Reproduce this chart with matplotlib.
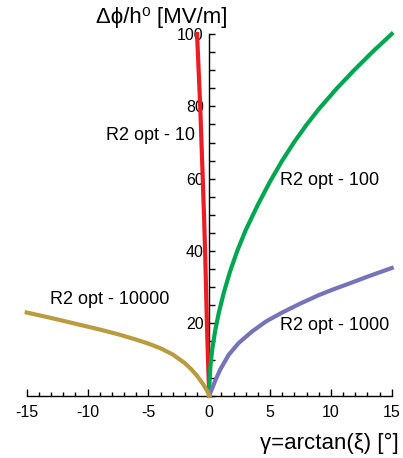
import matplotlib
matplotlib.use("Agg")
import matplotlib.pyplot as plt
from matplotlib.ticker import MultipleLocator

plt.rcParams['font.family'] = ['Liberation Sans', 'DejaVu Sans']
plt.rcParams['axes.unicode_minus'] = False

# curves: gamma [deg] and delta phi / h0 [MV/m]
x_r10 = [0.0, -0.03, -0.1, -0.19, -0.26, -0.33, -0.42, -0.52, -0.63, -0.74, -0.87, -1.0]
y_r10 = [0.0, 3.0, 10.0, 20.0, 29.5, 39.0, 49.0, 59.0, 69.5, 80.0, 90.0, 100.0]

x_r100 = [0.0, 0.02, 0.1, 0.25, 0.5, 0.8, 1.2, 1.7, 2.3, 3.0, 4.0, 5.0,
          6.0, 7.0, 8.0, 9.0, 10.5, 12.0, 13.5, 15.0]
y_r100 = [0.0, 3.6, 8.2, 12.9, 18.2, 23.1, 28.5, 34.2, 40.0, 45.8, 52.8, 59.2,
          65.0, 70.2, 74.9, 79.2, 85.0, 90.3, 95.3, 100.0]

x_r1000 = [0.0, 0.1, 0.3, 0.5, 0.9, 1.6, 2.4, 3.5, 4.7, 6.0, 7.5, 9.0,
           10.2, 11.5, 13.0, 15.0]
y_r1000 = [0.0, 0.9, 2.5, 4.2, 7.2, 11.3, 14.5, 17.7, 20.6, 23.0, 25.5, 27.8,
           29.4, 31.0, 32.9, 35.3]

x_r10000 = [0.0, -0.2, -0.5, -1.0, -1.5, -2.0, -3.0, -4.0, -5.0, -6.0, -7.5,
            -9.0, -11.0, -13.0, -15.0]
y_r10000 = [0.0, 1.5, 3.2, 5.5, 7.4, 9.0, 11.4, 13.1, 14.4, 15.5, 17.0,
            18.3, 19.9, 21.5, 23.0]

labels = ["R2 opt - 10", "R2 opt - 100", "R2 opt - 1000", "R2 opt - 10000"]
colors = ["#ec1c24", "#00a650", "#7674b8", "#b99b40"]

fig = plt.figure(figsize=(4.03, 4.58), dpi=100)
ax = fig.add_axes([0.0663, 0.136, 0.9057, 0.7898])

ax.plot(x_r10, y_r10, color=colors[0], lw=3, clip_on=False, zorder=3)
ax.plot(x_r100, y_r100, color=colors[1], lw=3, clip_on=False, zorder=3)
ax.plot(x_r1000, y_r1000, color=colors[2], lw=3, clip_on=False, zorder=3)
ax.plot(x_r10000, y_r10000, color=colors[3], lw=3, clip_on=False, zorder=3)

ax.set_xlim(-15, 15)
ax.set_ylim(0, 100)

# axes through the origin
ax.spines['left'].set_position(('data', 0))
ax.spines['left'].set_bounds(0, 100)
ax.spines['bottom'].set_bounds(-15, 15)
ax.spines['top'].set_visible(False)
ax.spines['right'].set_visible(False)
for s in ['left', 'bottom']:
    ax.spines[s].set_linewidth(1.0)
    ax.spines[s].set_zorder(2)

ax.xaxis.set_major_locator(MultipleLocator(5))
ax.xaxis.set_minor_locator(MultipleLocator(1))
ax.yaxis.set_minor_locator(MultipleLocator(5))
ax.set_yticks([20, 40, 60, 80, 100])

ax.tick_params(axis='both', which='both', direction='in', width=1.0, labelsize=11.5)
ax.tick_params(axis='x', which='major', length=5, pad=7)
ax.tick_params(axis='x', which='minor', length=3)
ax.tick_params(axis='y', which='major', length=4, pad=4)
ax.tick_params(axis='y', which='minor', length=4)

# axis titles
fig.text(96 / 403, 1 - 17 / 458, "Δϕ/h⁰ [MV/m]", fontsize=16, ha='left', va='center')
fig.text(399 / 403, 1 - 443 / 458, "γ=arctan(ξ) [°]", fontsize=16, ha='right', va='center')

# curve labels
ax.text(-1.2, 72.0, labels[0], fontsize=13, ha='right', va='center')
ax.text(5.8, 59.5, labels[1], fontsize=13, ha='left', va='center')
ax.text(5.8, 19.5, labels[2], fontsize=13, ha='left', va='center')
ax.text(-3.3, 26.5, labels[3], fontsize=13, ha='right', va='center')

fig.savefig("out.png", dpi=100)
